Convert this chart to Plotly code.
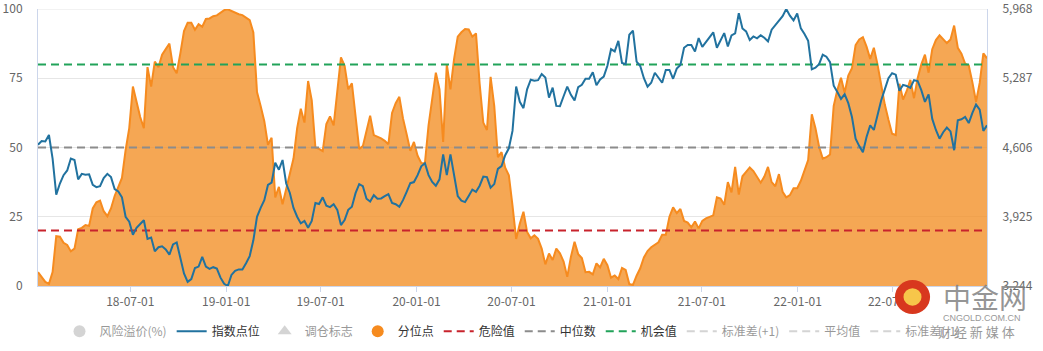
import pandas as pd
import plotly.graph_objects as go

# ---- data (weekly) ----
START_DATE = "2018-01-05"

PERCENTILE = [
    5, 3.3, 1.5, 0.8, 5, 18, 17.8, 15.6, 14.8, 12.5,
    13.5, 20.5, 21, 22, 21.7, 28, 30.2, 30.8, 27, 25.2,
    28, 32.5, 35.5, 39, 49, 57, 72, 66, 61, 57,
    79, 72, 81, 79, 83.5, 85.5, 87.5, 79, 76.8, 84,
    92, 95, 95, 92.5, 94.5, 93.6, 96.4, 96.6, 97.4, 97.7,
    98.6, 99.6, 99.9,
    99.2, 98.6, 98.1, 97.8, 97, 96, 91.5, 70, 65, 59.5,
    51, 53.5, 32, 35.8, 29.5, 35, 41, 46, 57, 64,
    59, 74, 67, 50, 49.5, 48.7, 58.5, 61.2, 58, 70,
    82.5, 79.5, 71, 73.2, 61.5, 49.5, 50.5, 56, 61.5, 54.5,
    54, 53.3, 52.4, 51.2, 62.5, 66, 68.3, 60.5, 54.8, 48.8,
    52,
    47, 44.4, 44.3, 58, 67, 77, 71, 52, 80, 71,
    82, 90, 91.6, 92.8, 92.6, 90, 91.2, 73, 59, 56.3,
    75.5, 65, 46.5, 48.3, 42.7, 40, 29, 17, 22.5, 26.8,
    19.5, 17.2, 18.3, 17, 13.5, 7.8, 11.7, 9.4, 13.5, 11.8,
    8.8, 3.3, 10.5, 16, 11.5, 10.1, 5, 5.1, 4.2, 8.2,
    6.7, 9.8,
    7.5, 3, 3.8, 2.5, 6.5, 5.8, 0.7, 0.4, 3.7, 6.4,
    10.3, 12.6, 14, 15, 15.8, 18.5, 18.5, 25, 28.4, 26.3,
    27.8, 23.5, 22.9, 21.2, 23.3, 20.8, 23.5, 24.4, 25, 25.5,
    32, 31.6, 29.3, 37.5, 33.8, 43, 33, 39.6, 41.2, 42.8,
    41.5, 39.2, 37.3, 39.5, 43, 37.5, 36, 40.4, 34, 32,
    32.8, 35.3,
    35.3, 38, 42, 45.5, 62, 57, 50.3, 46, 46.5, 47.5,
    65, 70.8, 75.2, 69.8, 76, 78.6, 87, 89, 89.8, 86.4,
    82, 86, 80, 72, 65.5, 60, 55, 54.5, 73, 67.3,
    70.4, 74.4, 67.8, 75, 80, 83.5, 77, 85.5, 88.8, 90.5,
    89, 87.7, 89, 94, 86, 83.9, 80.3, 79.6, 73.5, 66.5,
    73.3, 84, 82.2,
]

INDEX_POINTS = [
    4633, 4669, 4666, 4729, 4497, 4143, 4252, 4334, 4380, 4497,
    4483, 4293, 4347, 4339, 4342, 4238, 4216, 4225, 4306, 4347,
    4315, 4197, 4173, 4116, 3925, 3876, 3748, 3816, 3854, 3890,
    3707, 3721, 3585, 3625, 3634, 3604, 3552, 3653, 3672, 3516,
    3367, 3285, 3312, 3421, 3435, 3530, 3435, 3413, 3429, 3416,
    3326, 3266, 3244,
    3353, 3394, 3407, 3407, 3467, 3538, 3693, 3925, 4012, 4088,
    4238, 4260, 4456, 4388, 4483, 4252, 4159, 4012, 3925, 3860,
    3884, 3816, 3884, 4061, 4050, 4116, 4034, 4020, 4048, 3993,
    3843, 3892, 3993, 4023, 4157, 4246, 4225, 4102, 4075, 4137,
    4102, 4105, 4127, 4148, 4061, 4048, 4023, 4088, 4170, 4255,
    4266,
    4334, 4421, 4451, 4334, 4268, 4230, 4293, 4538, 4334, 4538,
    4334, 4129, 4083, 4069, 4129, 4192, 4170, 4230, 4320, 4315,
    4211, 4246, 4396, 4423, 4530, 4598, 4769, 5205, 5055, 4993,
    5178, 5273, 5262, 5268, 5328, 5295, 5096, 5194, 5015, 5012,
    5110, 5205, 5124, 5069, 5200, 5222, 5282, 5282, 5347, 5219,
    5276, 5303,
    5410, 5573, 5551, 5655, 5437, 5426, 5715, 5755, 5450, 5407,
    5287, 5205, 5243, 5341, 5292, 5243, 5369, 5369, 5282, 5382,
    5418, 5587, 5614, 5614, 5549, 5682, 5595, 5641, 5696, 5739,
    5587, 5657, 5731, 5600, 5709, 5728, 5927, 5777, 5747, 5663,
    5698, 5679, 5709, 5685, 5649, 5764, 5807, 5843, 5897, 5968,
    5903, 5856,
    5924, 5777, 5723, 5655, 5374, 5390, 5426, 5518, 5499, 5445,
    5213, 5151, 5083, 5129, 5042, 4906, 4693, 4620, 4560, 4710,
    4824, 4778, 4933, 5069, 5178, 5287, 5336, 5322, 5164, 5222,
    5211, 5192, 5268, 5260, 5170, 5055, 5129, 4887, 4778, 4693,
    4756, 4802, 4764, 4579, 4873, 4884, 4906, 4846, 4947, 5028,
    4979, 4769, 4824,
]

DANGER_VALUE = 20
MEDIAN_VALUE = 50
CHANCE_VALUE = 80

X_TICK_DATES = ["2018-07-01", "2019-01-01", "2019-07-01", "2020-01-01", "2020-07-01",
                "2021-01-01", "2021-07-01", "2022-01-01", "2022-07-01"]
X_TICK_TEXT = ["18-07-01", "19-01-01", "19-07-01", "20-01-01", "20-07-01",
               "21-01-01", "21-07-01", "22-01-01", "22-07-01"]
LEFT_TICKS = [0, 25, 50, 75, 100]
RIGHT_TICKS = [3244, 3925, 4606, 5287, 5968]

DATES = pd.date_range(START_DATE, periods=len(PERCENTILE), freq="7D")
X_EDGES = [DATES[0], DATES[-1]]

FONT = "Noto Sans CJK SC, Microsoft YaHei, sans-serif"
ORANGE = "#f68b1f"
BLUE = "#21729f"
RED = "#c8232c"
GREY = "#8c8c8c"
GREEN = "#22a35a"
DASH = "8px,5px"

fig = go.Figure()

# percentile area (drawn first, no legend item of its own)
fig.add_trace(go.Scatter(
    x=DATES, y=PERCENTILE, mode="lines", name="分位点",
    line=dict(color=ORANGE, width=2), fill="tozeroy",
    fillcolor="rgba(242,142,36,0.78)", showlegend=False, hoverinfo="skip"))

fig.add_trace(go.Scatter(x=[None], y=[None], mode="markers", name="风险溢价(%)",
                         marker=dict(symbol="circle", size=12, color="#aaaaaa"),
                         visible="legendonly"))
fig.add_trace(go.Scatter(x=DATES, y=INDEX_POINTS, mode="lines", name="指数点位",
                         line=dict(color=BLUE, width=2), yaxis="y2"))
fig.add_trace(go.Scatter(x=[None], y=[None], mode="markers", name="调仓标志",
                         marker=dict(symbol="triangle-up", size=12, color="#aaaaaa"),
                         visible="legendonly"))
fig.add_trace(go.Scatter(x=[None], y=[None], mode="markers", name="分位点",
                         marker=dict(symbol="circle", size=12, color=ORANGE)))
fig.add_trace(go.Scatter(x=X_EDGES, y=[DANGER_VALUE] * 2, mode="lines", name="危险值",
                         line=dict(color=RED, width=2, dash=DASH)))
fig.add_trace(go.Scatter(x=X_EDGES, y=[MEDIAN_VALUE] * 2, mode="lines", name="中位数",
                         line=dict(color=GREY, width=2, dash=DASH)))
fig.add_trace(go.Scatter(x=X_EDGES, y=[CHANCE_VALUE] * 2, mode="lines", name="机会值",
                         line=dict(color=GREEN, width=2, dash=DASH)))
for nm in ["标准差(+1)", "平均值", "标准差(-1)"]:
    fig.add_trace(go.Scatter(x=[None], y=[None], mode="lines", name=nm,
                             line=dict(color="#aaaaaa", width=2, dash=DASH),
                             visible="legendonly"))

axis_line = "#ccd6eb"
fig.update_layout(
    width=1043, height=351,
    margin=dict(l=38, r=56, t=9, b=65, autoexpand=False),
    paper_bgcolor="white", plot_bgcolor="white",
    font=dict(family=FONT, size=12, color="#666666"),
    showlegend=True,
    legend=dict(orientation="h", x=0.5, xanchor="center", y=-0.163, yanchor="middle",
                font=dict(family=FONT, size=12, color="#333333"),
                itemwidth=30, tracegroupgap=0, bgcolor="rgba(0,0,0,0)"),
    xaxis=dict(type="date", range=X_EDGES, tickvals=X_TICK_DATES, ticktext=X_TICK_TEXT,
               showgrid=False, showline=True, linecolor=axis_line, linewidth=1,
               ticks="outside", ticklen=5, tickcolor=axis_line, automargin=False,
               tickfont=dict(size=12, color="#666666"), zeroline=False),
    yaxis=dict(range=[0, 100], tickvals=LEFT_TICKS, showgrid=True, gridcolor="#e6e6e6",
               showline=True, linecolor=axis_line, zeroline=False, automargin=False,
               ticklabeloverflow="allow",
               ticklabelstandoff=12, tickfont=dict(size=12, color="#666666")),
    yaxis2=dict(range=[RIGHT_TICKS[0], RIGHT_TICKS[-1]], tickvals=RIGHT_TICKS,
                tickformat=",d", overlaying="y", side="right", showgrid=False,
                showline=True, linecolor=axis_line, zeroline=False, automargin=False,
                ticklabeloverflow="allow",
                ticklabelstandoff=12, tickfont=dict(size=12, color="#666666")),
)

# top grid line (at the last left-axis tick)
fig.add_shape(type="line", xref="paper", yref="y", x0=0, x1=1,
              y0=LEFT_TICKS[-1], y1=LEFT_TICKS[-1], line=dict(color="#e6e6e6", width=1),
              layer="below")

# watermark
fig.add_shape(type="circle", xref="paper", yref="paper", x0=0.903, x1=0.940,
              y0=-0.101, y1=0.022, fillcolor="#d8381e", line=dict(width=0), layer="above")
fig.add_shape(type="circle", xref="paper", yref="paper", x0=0.912, x1=0.931,
              y0=-0.071, y1=-0.008, fillcolor="#f7c64a", line=dict(width=0), layer="above")
fig.add_annotation(text="中金网", xref="paper", yref="paper", x=0.998, y=-0.040,
                   showarrow=False, xanchor="center", yanchor="middle",
                   font=dict(family=FONT, size=28, color="rgba(130,130,130,0.85)"))
fig.add_annotation(text="CNGOLD.COM.CN", xref="paper", yref="paper", x=0.995, y=-0.116,
                   showarrow=False, xanchor="center", yanchor="middle",
                   font=dict(family="Arial, Liberation Sans", size=9, color="#999999"))
fig.add_annotation(text="财 经 新 媒 体", xref="paper", yref="paper", x=0.989, y=-0.166,
                   showarrow=False, xanchor="center", yanchor="middle",
                   font=dict(family=FONT, size=13, color="#999999"))

fig.write_html("out.html")
